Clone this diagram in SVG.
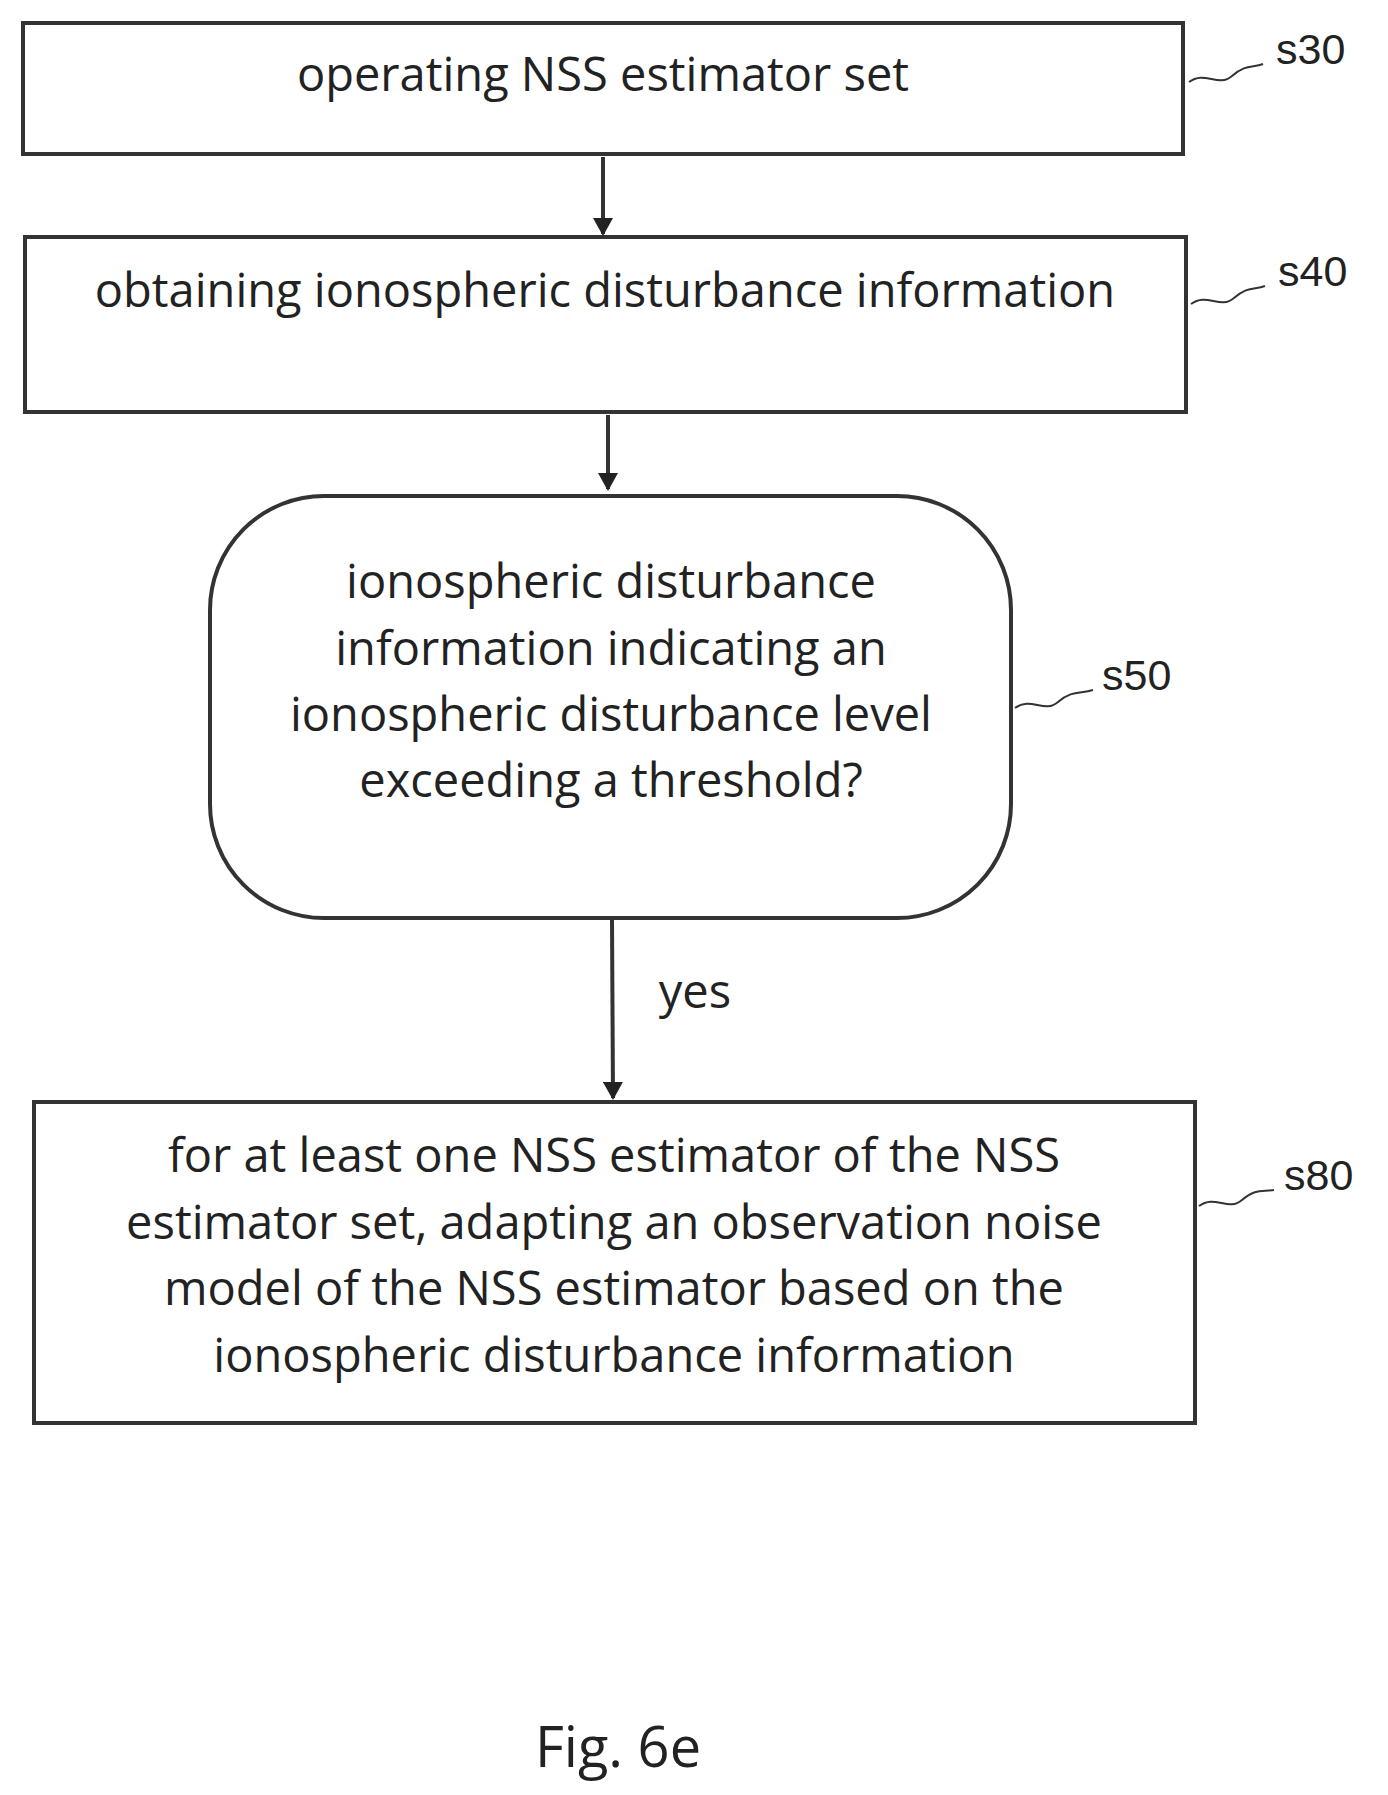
<svg xmlns="http://www.w3.org/2000/svg" width="1388" height="1795" viewBox="0 0 1388 1795">
<defs>
<marker id="ah" markerWidth="18" markerHeight="20" refX="16" refY="10" orient="auto" markerUnits="userSpaceOnUse" viewBox="0 0 18 20"><path d="M0,0 L18,10 L0,20 z" fill="#222"/></marker>
<style>
.box{fill:#fff;stroke:#333;stroke-width:4}
.t{font-family:"Open Sans",sans-serif;font-size:47px;fill:#222;text-anchor:middle}
.lb{font-family:"Liberation Sans",sans-serif;font-size:43px;fill:#222}
.sq{fill:none;stroke:#333;stroke-width:2}
.c{stroke:#333;stroke-width:4;fill:none}
</style>
</defs>
<rect width="1388" height="1795" fill="#fff"/>
<g id="s30"><rect class="box" x="23" y="23" width="1160" height="131"/><text class="t" x="603" y="91">operating NSS estimator set</text>
<path class="sq" d="M1189,82 C1205,70 1218,88 1232,76 S1252,68 1263,64"/><text class="lb" x="1276" y="64">s30</text></g>
<g id="s40"><rect class="box" x="25" y="237" width="1161" height="175"/><text class="t" x="605" y="307">obtaining ionospheric disturbance information</text>
<path class="sq" d="M1191,304 C1207,292 1220,310 1234,298 S1254,290 1265,286"/><text class="lb" x="1278" y="286">s40</text></g>
<g id="s50"><rect class="box" x="210" y="496" width="801" height="422" rx="114"/>
<text class="t" x="611" y="598">ionospheric disturbance</text>
<text class="t" x="611" y="665">information indicating an</text>
<text class="t" x="611" y="731">ionospheric disturbance level</text>
<text class="t" x="611" y="797">exceeding a threshold?</text>
<path class="sq" d="M1015,708 C1031,696 1044,714 1058,702 S1080,694 1093,690"/><text class="lb" x="1102" y="690">s50</text></g>
<g id="s80"><rect class="box" x="34" y="1102" width="1161" height="321"/>
<text class="t" x="614" y="1172">for at least one NSS estimator of the NSS</text>
<text class="t" x="614" y="1239">estimator set, adapting an observation noise</text>
<text class="t" x="614" y="1305">model of the NSS estimator based on the</text>
<text class="t" x="614" y="1372">ionospheric disturbance information</text>
<path class="sq" d="M1199,1206 C1215,1194 1228,1212 1242,1200 S1262,1192 1274,1190"/><text class="lb" x="1284" y="1190">s80</text></g>
<g id="connectors">
<line class="c" x1="603" y1="157" x2="603" y2="234" marker-end="url(#ah)"/>
<line class="c" x1="608" y1="415" x2="608" y2="489" marker-end="url(#ah)"/>
<line class="c" x1="612" y1="920" x2="613" y2="1098" marker-end="url(#ah)"/>
<text class="t" x="695" y="1008">yes</text>
</g>
<text class="t" x="618" y="1767" style="font-size:56px">Fig. 6e</text>
</svg>
